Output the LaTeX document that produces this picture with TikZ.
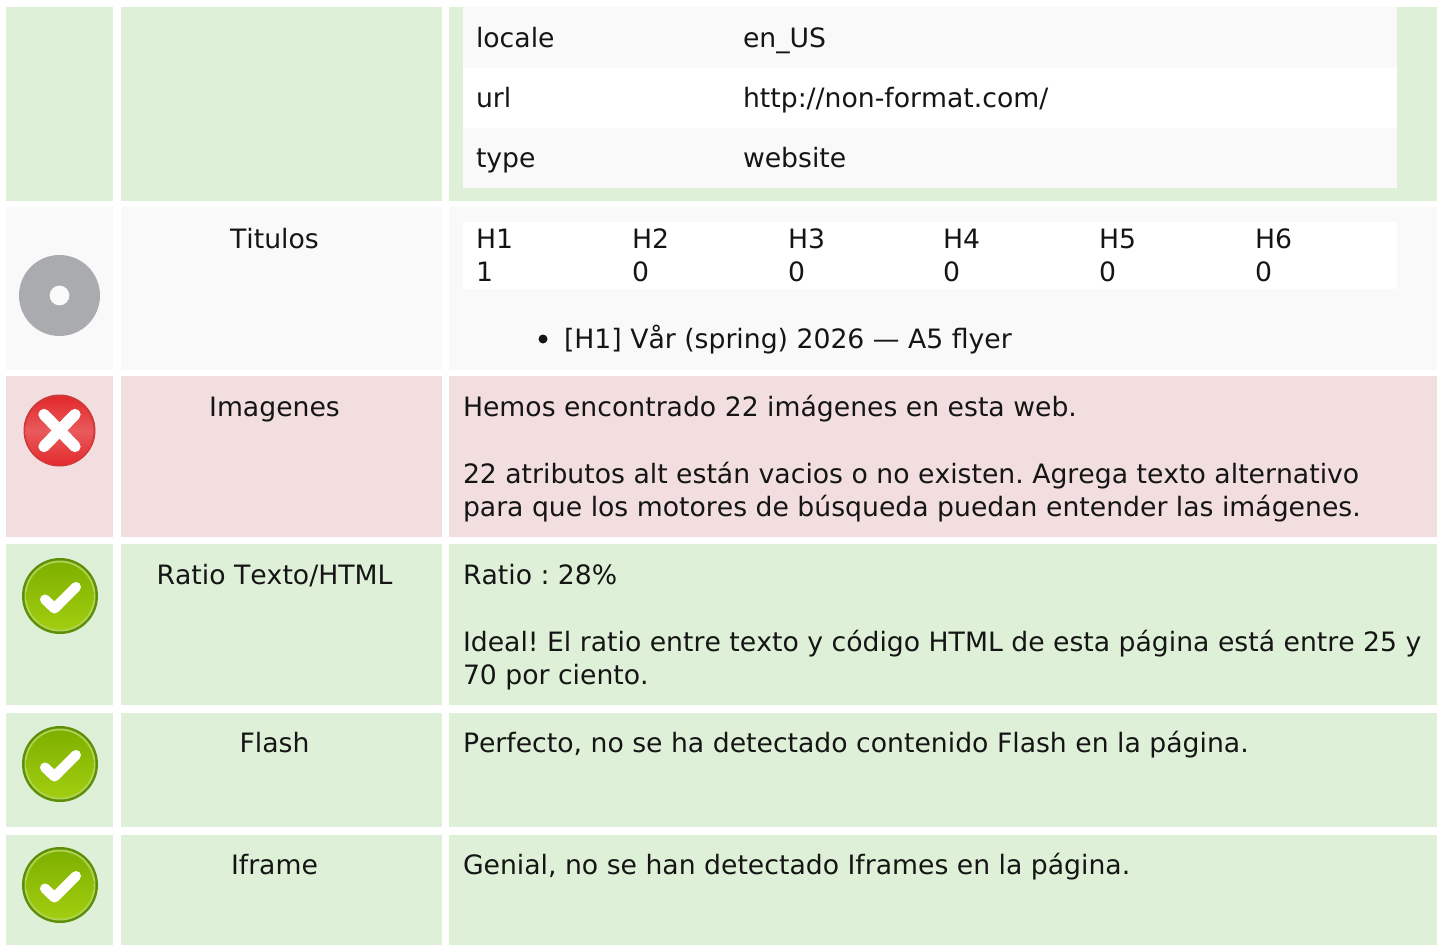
\documentclass[tikz,border=0pt]{standalone}
\usepackage{fontspec}
\setmainfont[Kerning=Off]{DejaVu Sans}
\frenchspacing
\definecolor{okbg}{HTML}{DFF0D8}
\definecolor{badbg}{HTML}{F2DEDE}
\definecolor{neutral}{HTML}{F9F9F9}
\definecolor{txt}{HTML}{151515}
\definecolor{disc}{HTML}{A9ABAE}
\definecolor{gdark}{HTML}{5E8F08}
\definecolor{gtop}{HTML}{7FB000}
\definecolor{gbot}{HTML}{A2CE10}
\definecolor{grim}{HTML}{AFD350}
\definecolor{rdark}{HTML}{D0383A}
\definecolor{rtop}{HTML}{E85A5C}
\definecolor{rmid}{HTML}{E32A2C}
\tikzset{
  x=0.75pt,y=-0.75pt,
  lab/.style={inner sep=0pt,outer sep=0pt,anchor=base west,text=txt,font=\fontsize{20}{25}\selectfont},
  ctr/.style={lab,anchor=base},
  okcell/.style={fill=okbg},
  badcell/.style={fill=badbg},
  neutralcell/.style={fill=neutral},
  whitecell/.style={fill=white},
  tick/.style={draw=white,line width=7.5pt,line join=round,line cap=round},
  cross/.style={draw=white,line width=8.5pt,line cap=round}
}
\newcommand{\rowcells}[3]{%
  \fill[#1] (6,#2) rectangle (113,#3);
  \fill[#1] (121,#2) rectangle (442,#3);
  \fill[#1] (449,#2) rectangle (1437,#3);
}
\newcommand{\okball}[2]{%
  \fill[gdark] (#1,#2) circle (38);
  \fill[grim] (#1,#2) circle (35.5);
  \shade[top color=gtop,bottom color=gbot] (#1,#2) circle (33.5);
  \draw[tick] ($(#1,#2)+(-15,3.5)$) -- ($(#1,#2)+(-5.5,12.5)$) -- ($(#1,#2)+(16,-9)$);
}
\usetikzlibrary{calc}
\begin{document}
\begin{tikzpicture}
\useasboundingbox (0,0) rectangle (1446,945);
\fill[white] (0,0) rectangle (1446,945);
\rowcells{okcell}{7}{201}
\rowcells{neutralcell}{207}{370}
\rowcells{badcell}{376}{537}
\rowcells{okcell}{544}{705}
\rowcells{okcell}{713}{827}
\rowcells{okcell}{835}{945}
% inner tables
\fill[neutralcell] (463,7) rectangle (1397,68);
\fill[whitecell] (463,68) rectangle (1397,128);
\fill[neutralcell] (463,128) rectangle (1397,188);
\fill[whitecell] (463,222) rectangle (1397,289);
% icons
\fill[disc,even odd rule] (59.5,295.5) circle (40.5) (59.5,295.5) circle (10);
\fill[rdark] (59.5,430.5) circle (36);
\shade[top color=rtop,bottom color=rmid] (25.5,431) arc[start angle=180,end angle=0,radius=34] -- cycle;
\shade[top color=rmid,bottom color=rtop] (25.5,431) arc[start angle=180,end angle=360,radius=34] -- cycle;
\draw[cross] (44,414.5) -- (75,446.5);
\draw[cross] (75,414.5) -- (44,446.5);
\okball{60}{596}
\okball{60}{764}
\okball{60}{885}
% meta table
\node[lab] (tlocale) at (476,48) {locale};
\node[lab] (vlocale) at (743,48) {en\_US};
\node[lab] (turl) at (476,108) {url};
\node[lab] (vurl) at (743,108) {http://non-format.com/};
\node[lab] (ttype) at (476,168) {type};
\node[lab] (vtype) at (743,168) {website};
% titles
\node[ctr] (titulos) at (274.5,248) {Titulos};
\node[lab] (h1) at (476,248) {H1};
\node[lab] (h2) at (632,248) {H2};
\node[lab] (h3) at (788,248) {H3};
\node[lab] (h4) at (943,248) {H4};
\node[lab] (h5) at (1099,248) {H5};
\node[lab] (h6) at (1255,248) {H6};
\node[lab] (n1) at (476,281) {1};
\node[lab] (n2) at (632,281) {0};
\node[lab] (n3) at (788,281) {0};
\node[lab] (n4) at (943,281) {0};
\node[lab] (n5) at (1099,281) {0};
\node[lab] (n6) at (1255,281) {0};
\fill[txt] (543,339) circle (4.5);
\node[lab] (h1item) at (564,348) {[H1] Vår (spring) 2026 — A5 flyer};
% images
\node[ctr] (imagenes) at (274.5,416) {Imagenes};
\node[lab] (img1) at (463,416) {Hemos encontrado 22 imágenes en esta web.};
\node[lab] (img2) at (463,483) {22 atributos alt están vacios o no existen. Agrega texto alternativo};
\node[lab] (img3) at (463,516) {para que los motores de búsqueda puedan entender las imágenes.};
% ratio
\node[ctr] (ratio) at (274.5,584) {Ratio Texto/HTML};
\node[lab] (rat1) at (463,584) {Ratio : 28\%};
\node[lab] (rat2) at (463,651) {Ideal! El ratio entre texto y código HTML de esta página está entre 25 y};
\node[lab] (rat3) at (463,684) {70 por ciento.};
% flash
\node[ctr] (flash) at (274.5,752) {Flash};
\node[lab] (fl1) at (463,752) {Perfecto, no se ha detectado contenido Flash en la página.};
% iframe
\node[ctr] (iframe) at (274.5,874) {Iframe};
\node[lab] (if1) at (463,874) {Genial, no se han detectado Iframes en la página.};
\end{tikzpicture}
\end{document}
